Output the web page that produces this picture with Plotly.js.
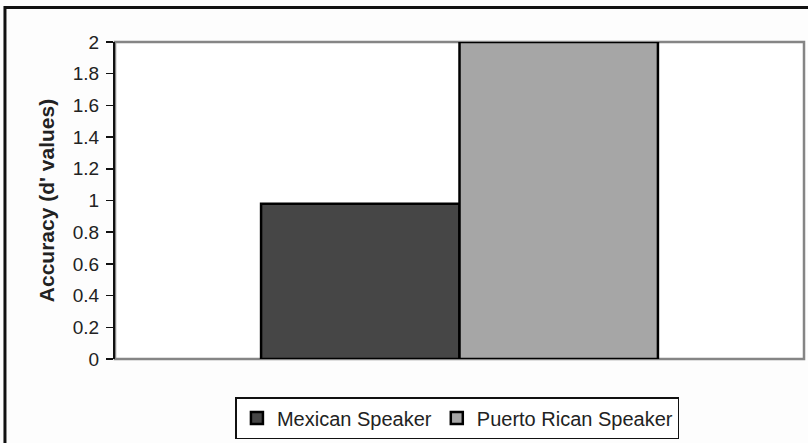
<!DOCTYPE html>
<html>
<head>
<meta charset="utf-8">
<script src="https://cdn.plot.ly/plotly-3.0.1.min.js"></script>
<style>
  html, body { margin: 0; padding: 0; background: #fdfdfd; }
  #chart { width: 808px; height: 443px; }
</style>
</head>
<body>
<div id="chart"></div>
<script>
// d' accuracy by speaker group
const groups = ['Mexican Speaker', 'Puerto Rican Speaker'];
const dPrime = [0.98, 2.0];
const fills = ['#464646', '#a6a6a6'];
const category = ['Speaker'];
const yTickVals = [0, 0.2, 0.4, 0.6, 0.8, 1, 1.2, 1.4, 1.6, 1.8, 2];
const yTickText = ['0', '0.2', '0.4', '0.6', '0.8', '1', '1.2', '1.4', '1.6', '1.8', '2'];

const traces = groups.map((name, i) => ({
  type: 'bar',
  name: name,
  x: category,
  y: [dPrime[i]],
  marker: { color: fills[i], line: { color: '#000', width: 2.5 } },
  cliponaxis: false,
  hoverinfo: 'skip'
}));

const font = 'Liberation Sans, Arial, sans-serif';

const layout = {
  width: 808,
  height: 443,
  margin: { l: 115, r: 4, t: 42, b: 80 },
  paper_bgcolor: '#fdfdfd',
  plot_bgcolor: '#ffffff',
  barmode: 'group',
  bargap: 0.424,
  bargroupgap: 0,
  showlegend: true,
  legend: {
    orientation: 'h',
    x: 0.497, xanchor: 'center',
    y: -0.12, yanchor: 'top',
    bgcolor: '#ffffff',
    bordercolor: '#111',
    borderwidth: 1.5,
    font: { family: font, size: 20, color: '#222' },
    traceorder: 'normal'
  },
  xaxis: {
    type: 'category',
    showticklabels: false,
    ticks: '',
    showgrid: false,
    zeroline: false,
    showline: false,
    fixedrange: true
  },
  yaxis: {
    range: [0, 2],
    tickmode: 'array',
    tickvals: yTickVals,
    ticktext: yTickText,
    ticks: 'outside',
    ticklen: 7,
    tickwidth: 1.5,
    tickcolor: '#111',
    ticklabelstandoff: 3,
    tickfont: { family: font, size: 19, color: '#222' },
    showgrid: false,
    zeroline: false,
    showline: true,
    linecolor: '#111',
    linewidth: 2,
    title: {
      text: "Accuracy (d' values)",
      font: { family: font, size: 21, color: '#222', weight: 'bold' },
      standoff: 12
    },
    fixedrange: true
  },
  shapes: [
    // plot area border
    {
      type: 'rect', xref: 'paper', yref: 'paper',
      x0: 0, x1: 1, y0: 0, y1: 1,
      line: { color: '#858585', width: 2.5 },
      layer: 'below'
    },
    // outer chart frame
    {
      type: 'rect', xref: 'paper', yref: 'paper',
      x0: -0.1597, x1: 1.04, y0: -0.27, y1: 1.109,
      line: { color: '#111', width: 3 },
      layer: 'below'
    }
  ],
  font: { family: font, color: '#222' }
};

Plotly.newPlot('chart', traces, layout, { displayModeBar: false, staticPlot: true });
</script>
</body>
</html>
